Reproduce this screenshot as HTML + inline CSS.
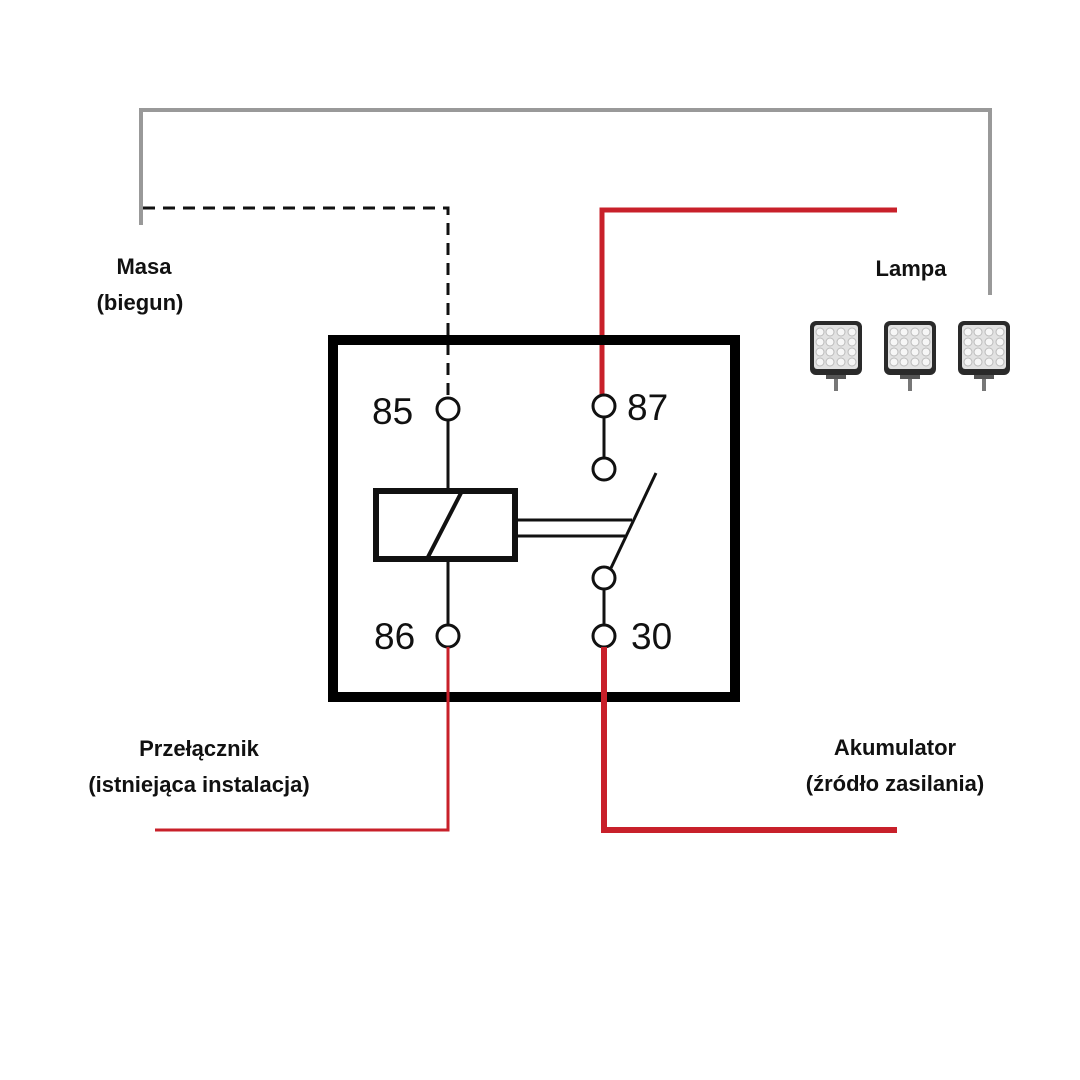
<!DOCTYPE html>
<html><head><meta charset="utf-8"><style>
html,body{margin:0;padding:0;background:#fff;}
svg{display:block;}
.lbl{font-family:"Liberation Sans",sans-serif;font-weight:bold;font-size:22px;fill:#111;}
.num{font-family:"Liberation Sans",sans-serif;font-size:37px;fill:#111;}
</style></head><body>
<svg width="1080" height="1080" viewBox="0 0 1080 1080" xmlns="http://www.w3.org/2000/svg">
<defs>
<g id="lamp">
<rect x="0" y="0" width="52" height="54" rx="6" fill="#2a2a2a"/>
<rect x="4" y="4" width="44" height="44" rx="3" fill="#e2e2e2"/>
<g fill="#f6f6f6" stroke="#bbb" stroke-width="1">
<circle cx="10" cy="11" r="4"/><circle cx="20" cy="11" r="4"/><circle cx="31" cy="11" r="4"/><circle cx="42" cy="11" r="4"/>
<circle cx="10" cy="21" r="4"/><circle cx="20" cy="21" r="4"/><circle cx="31" cy="21" r="4"/><circle cx="42" cy="21" r="4"/>
<circle cx="10" cy="31" r="4"/><circle cx="20" cy="31" r="4"/><circle cx="31" cy="31" r="4"/><circle cx="42" cy="31" r="4"/>
<circle cx="10" cy="41" r="4"/><circle cx="20" cy="41" r="4"/><circle cx="31" cy="41" r="4"/><circle cx="42" cy="41" r="4"/>
</g>
<rect x="16" y="54" width="20" height="4" fill="#555"/>
<rect x="24" y="58" width="4" height="12" fill="#777"/>
</g>
</defs>
<polyline points="141,225 141,110 990,110 990,295" fill="none" stroke="#999" stroke-width="4"/>
<polyline points="143,208 448,208 448,395" fill="none" stroke="#111" stroke-width="3" stroke-dasharray="12,8"/>
<polyline points="897,210 602,210 602,395" fill="none" stroke="#c8202a" stroke-width="5"/>
<rect x="333" y="340" width="402" height="357" fill="none" stroke="#000" stroke-width="10"/>
<g stroke="#111" stroke-width="3" fill="#fff">
<line x1="448" y1="420" x2="448" y2="490"/>
<line x1="448" y1="560" x2="448" y2="625"/>
<line x1="604" y1="417" x2="604" y2="458"/>
<line x1="604" y1="589" x2="604" y2="625"/>
<line x1="516" y1="520" x2="632" y2="520"/>
<line x1="516" y1="536" x2="625" y2="536"/>
<line x1="656" y1="473" x2="611" y2="568"/>
<circle cx="448" cy="409" r="11"/>
<circle cx="604" cy="406" r="11"/>
<circle cx="604" cy="469" r="11"/>
<circle cx="604" cy="578" r="11"/>
<circle cx="604" cy="636" r="11"/>
<circle cx="448" cy="636" r="11"/>
</g>
<rect x="376" y="491" width="139" height="68" fill="none" stroke="#111" stroke-width="6"/>
<line x1="428" y1="557" x2="461" y2="493" stroke="#111" stroke-width="4"/>
<polyline points="448,647 448,830 155,830" fill="none" stroke="#c8202a" stroke-width="3"/>
<polyline points="604,647 604,830 897,830" fill="none" stroke="#c8202a" stroke-width="6"/>
<text class="num" x="372" y="424">85</text>
<text class="num" x="627" y="420">87</text>
<text class="num" x="374" y="649">86</text>
<text class="num" x="631" y="649">30</text>
<text class="lbl" x="144" y="274" text-anchor="middle">Masa</text>
<text class="lbl" x="140" y="310" text-anchor="middle">(biegun)</text>
<text class="lbl" x="911" y="276" text-anchor="middle">Lampa</text>
<text class="lbl" x="199" y="756" text-anchor="middle">Przełącznik</text>
<text class="lbl" x="199" y="792" text-anchor="middle">(istniejąca instalacja)</text>
<text class="lbl" x="895" y="755" text-anchor="middle">Akumulator</text>
<text class="lbl" x="895" y="791" text-anchor="middle">(źródło zasilania)</text>
<use href="#lamp" x="810" y="321"/>
<use href="#lamp" x="884" y="321"/>
<use href="#lamp" x="958" y="321"/>
</svg>
</body></html>
